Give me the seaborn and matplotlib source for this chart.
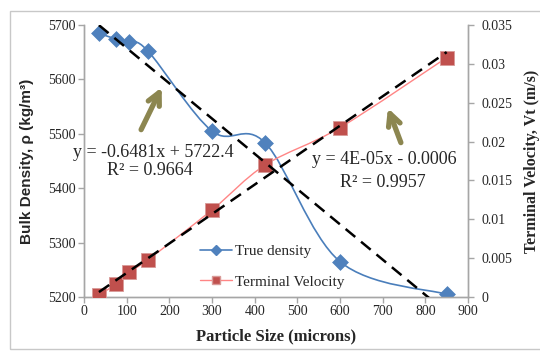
import numpy as np
import matplotlib
matplotlib.use("Agg")
import matplotlib.pyplot as plt
import seaborn as sns
from matplotlib.path import Path
from matplotlib.patches import PathPatch, Rectangle
from matplotlib.lines import Line2D

# data
particle_size = [35, 75, 105, 150, 300, 425, 600, 850]
true_density = [5685, 5674, 5668, 5652, 5505, 5483, 5265, 5205]
terminal_velocity = [0.0002, 0.0017, 0.0032, 0.0048, 0.0112, 0.0170, 0.0218, 0.0308]

# trend line coefficients as printed on the chart
density_fit = [-0.6481, 5722.4]
density_eq = "y = -0.6481x + 5722.4"
density_r2 = "R² = 0.9664"
velocity_eq = "y = 4E-05x - 0.0006"
velocity_r2 = "R² = 0.9957"


def smooth_path(x, y):
    # Excel-like smoothed line: Catmull-Rom segments as cubic Bezier
    pts = np.column_stack([x, y]).astype(float)
    verts = [pts[0]]
    codes = [Path.MOVETO]
    n = len(pts)
    for i in range(n - 1):
        p0 = pts[i - 1] if i > 0 else pts[i]
        p1 = pts[i]
        p2 = pts[i + 1]
        p3 = pts[i + 2] if i + 2 < n else pts[i + 1]
        c1 = p1 + (p2 - p0) / 6.0
        c2 = p2 - (p3 - p1) / 6.0
        verts += [c1, c2, p2]
        codes += [Path.CURVE4] * 3
    return Path(verts, codes)


sns.set_style("white")
plt.rcParams['font.family'] = ['Liberation Serif', 'DejaVu Serif']

blue_line = '#4a7ebb'
blue_mark = '#4f81bd'
red_line = '#ff8585'
red_mark = '#c0504d'
arrow_col = '#8c8650'

fig = plt.figure(figsize=(5.4, 3.52), dpi=100)
fig.patches.append(Rectangle((10 / 540, 3 / 352), 1.2, 338 / 352, transform=fig.transFigure,
                             fill=False, edgecolor='#c8c8c8', lw=1))
ax = fig.add_axes([84 / 540, 1 - 297 / 352, 384 / 540, 272 / 352])
ax2 = ax.twinx()

# true density
ax.add_patch(PathPatch(smooth_path(particle_size, true_density), fill=False,
                       edgecolor=blue_line, lw=1.2, zorder=2))
sns.scatterplot(x=particle_size, y=true_density, ax=ax, marker='D', s=65,
                color=blue_mark, edgecolor=blue_mark, linewidth=0.5, zorder=3, legend=False)

# terminal velocity
ax2.add_patch(PathPatch(smooth_path(particle_size, terminal_velocity), fill=False,
                        edgecolor=red_line, lw=1.0, zorder=2))
sns.scatterplot(x=particle_size, y=terminal_velocity, ax=ax2, marker='s', s=110,
                color=red_mark, edgecolor='#d99a98', linewidth=0.6, zorder=3, legend=False)

# linear trend lines (on top of both series)
xs = np.array([min(particle_size), max(particle_size)])
kv = np.polyfit(particle_size, terminal_velocity, 1)
ax2.plot(xs, np.polyval(density_fit, xs), transform=ax.transData, color='black', lw=1.8,
         dashes=(5, 3), zorder=5)
ax2.plot(xs, np.polyval(kv, xs), color='black', lw=1.8, dashes=(5, 3), zorder=5)

ax.set_xlim(0, 900)
ax.set_ylim(5200, 5700)
ax2.set_ylim(0, 0.035)
ax.set_xticks(range(0, 901, 100))
ax.set_yticks(range(5200, 5701, 100))
ax2.set_yticks(np.arange(0, 0.0351, 0.005))
ax2.set_yticklabels(['0', '0.005', '0.01', '0.015', '0.02', '0.025', '0.03', '0.035'])

for a in (ax, ax2):
    a.spines['top'].set_visible(False)
    for s in ('left', 'right', 'bottom'):
        a.spines[s].set_color('#a6a6a6')
        a.spines[s].set_linewidth(1)
    a.tick_params(direction='out', length=4, width=1, color='#a6a6a6',
                  labelsize=10, labelcolor='#262626')
ax.tick_params(axis='x', bottom=True, pad=2)
ax.tick_params(axis='y', left=True, pad=2)
ax2.tick_params(axis='y', right=True, pad=6)

ax.set_xlabel('Particle Size (microns)', fontsize=12, fontweight='bold', labelpad=7)
ax.set_ylabel('Bulk Density, ρ (kg/m³)', fontsize=11, fontweight='bold',
              family=['Liberation Sans', 'DejaVu Sans'], labelpad=10)
ax2.set_ylabel('Terminal Velocity, Vt (m/s)', fontsize=11.5, fontweight='bold', labelpad=8)

# equations
ax.text(163, 5465, density_eq, fontsize=13, ha='center', va='center', zorder=6)
ax.text(155, 5432, density_r2, fontsize=13, ha='center', va='center', zorder=6)
ax.text(705, 5452, velocity_eq, fontsize=13, ha='center', va='center', zorder=6)
ax.text(701, 5410, velocity_r2, fontsize=13, ha='center', va='center', zorder=6)

# arrows
ax2.annotate('', xy=(185, 5590), xytext=(131, 5503), xycoords=ax.transData,
             textcoords=ax.transData,
             arrowprops=dict(arrowstyle='->', lw=3.8, color=arrow_col, mutation_scale=22))
ax2.annotate('', xy=(710, 5552), xytext=(745, 5479), xycoords=ax.transData,
             textcoords=ax.transData,
             arrowprops=dict(arrowstyle='->', lw=3.8, color=arrow_col, mutation_scale=22))

handles = [
    Line2D([], [], color=blue_line, lw=1.2, marker='D', markersize=5,
           markerfacecolor=blue_mark, markeredgecolor=blue_mark),
    Line2D([], [], color=red_line, lw=1.0, marker='s', markersize=6,
           markerfacecolor=red_mark, markeredgecolor='#d99a98'),
]
ax2.legend(handles, ['True density', 'Terminal Velocity'], loc='lower left',
           bbox_to_anchor=(0.265, -0.02), frameon=False, fontsize=11,
           handlelength=2.1, handletextpad=0.2, labelspacing=1.1)

fig.savefig('out.png', dpi=100)
